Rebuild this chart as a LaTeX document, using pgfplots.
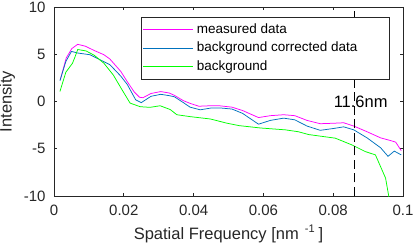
\documentclass[border=0pt]{standalone}
\usepackage{pgfplots}
\pgfplotsset{compat=1.18}
\usepackage{fontspec}
\setmainfont{Liberation Sans}
\definecolor{mmag}{RGB}{255,0,255}
\definecolor{mblue}{RGB}{0,114,189}
\definecolor{mgreen}{RGB}{0,255,0}
\definecolor{axgray}{RGB}{38,38,38}
\begin{document}
\begin{tikzpicture}
\begin{axis}[
  scale only axis,
  width=349bp, height=189bp,
  xmin=0, xmax=0.1, ymin=-10, ymax=10,
  xtick={0,0.02,0.04,0.06,0.08,0.1},
  xticklabels={0,0.02,0.04,0.06,0.08,0.1},
  ytick={-10,-5,0,5,10},
  yticklabels={-10,-5,0,5,10},
  tick align=inside,
  xtick pos=both, ytick pos=both,
  major tick length=3.5bp,
  axis line style={axgray, line width=0.6bp},
  every tick/.style={axgray, line width=0.6bp},
  ticklabel style={font=\fontsize{15bp}{18bp}\selectfont, text=axgray},
  xticklabel style={yshift=-6bp},
  yticklabel style={xshift=-5bp},
  /pgf/number format/assume math mode=true,
  xlabel={Spatial Frequency [nm\hspace{6bp}\raisebox{0.45em}{\fontsize{11bp}{12bp}\selectfont -1}\hspace{4bp}]},
  ylabel={Intensity},
  label style={font=\fontsize{16.5bp}{19bp}\selectfont, text=axgray},
  xlabel style={yshift=-2bp},
  ylabel style={yshift=2bp},
  legend cell align=left,
  legend image code/.code={\draw[#1, line width=0.9bp] (0bp,0bp) -- (50bp,0bp);},
  legend style={at={(rel axis cs:0.963,0.945)}, anchor=north east,
    font=\fontsize{13.5bp}{16bp}\selectfont, draw=axgray, line width=0.6bp,
    fill=white, inner xsep=2bp, inner ysep=3bp, row sep=0bp, column sep=0bp,
    nodes={inner xsep=3bp, inner ysep=2.5bp, text height=10bp, text depth=3.5bp}},
]
\addplot[mmag, line width=0.75bp] coordinates {
(0.0018,2.3) (0.0035,4.6) (0.0051,5.6) (0.0068,6.05) (0.0090,5.85) (0.0115,5.4) (0.0143,4.95) (0.0160,4.5) (0.0191,3.2) (0.0210,2.1) (0.0230,1.0) (0.0245,0.45) (0.0255,0.4) (0.0278,0.85) (0.0306,1.05) (0.0330,0.9) (0.0345,0.65) (0.0370,0.1) (0.0390,-0.2) (0.0415,-0.5) (0.0448,-0.45) (0.0476,-0.46) (0.0510,-0.6) (0.0540,-0.95) (0.0586,-1.7) (0.0620,-1.5) (0.0658,-1.4) (0.0690,-1.5) (0.0725,-2.0) (0.0763,-2.35) (0.0802,-2.3) (0.0830,-2.25) (0.0859,-2.6) (0.0897,-3.2) (0.0936,-3.85) (0.0966,-4.15) (0.0979,-4.3) (0.0995,-5.2)
};
\addlegendentry{\makebox[188bp][l]{measured data}}
\addplot[mblue, line width=0.75bp] coordinates {
(0.0017,2.2) (0.0034,4.24) (0.0050,5.3) (0.0068,5.13) (0.0103,4.95) (0.0132,4.42) (0.0160,3.9) (0.0191,2.7) (0.0210,1.8) (0.0234,0.18) (0.0250,-0.12) (0.0278,0.55) (0.0306,0.76) (0.0330,0.62) (0.0345,0.5) (0.0370,-0.1) (0.0390,-0.6) (0.0419,-0.88) (0.0448,-0.7) (0.0476,-0.68) (0.0510,-0.8) (0.0540,-1.25) (0.0586,-2.4) (0.0620,-2.0) (0.0658,-1.76) (0.0690,-1.94) (0.0725,-2.6) (0.0763,-3.05) (0.0802,-2.85) (0.0830,-2.68) (0.0859,-3.0) (0.0897,-3.85) (0.0936,-4.9) (0.0957,-5.8) (0.0975,-5.25) (0.0995,-5.65)
};
\addlegendentry{\makebox[188bp][l]{background corrected data}}
\addplot[mgreen, line width=0.75bp] coordinates {
(0.0017,1.06) (0.0034,3.1) (0.0053,4.05) (0.0060,4.7) (0.0068,5.5) (0.0092,5.35) (0.0115,4.9) (0.0143,4.05) (0.0170,2.8) (0.0194,1.3) (0.0218,-0.17) (0.0247,-0.55) (0.0275,-0.62) (0.0304,-0.45) (0.0333,-0.85) (0.0352,-1.4) (0.0390,-1.6) (0.0448,-1.85) (0.0496,-2.3) (0.0530,-2.55) (0.0591,-2.8) (0.0663,-3.0) (0.0700,-3.2) (0.0730,-3.5) (0.0806,-3.88) (0.0854,-4.6) (0.0892,-5.3) (0.0921,-5.65) (0.0950,-8.1) (0.0962,-10.6)
};
\addlegendentry{\makebox[188bp][l]{background}}
\addplot[black, line width=0.75bp, dash pattern=on 9bp off 4.5bp, forget plot] coordinates {(0.0862,-10) (0.0862,10)};
\node[anchor=west, inner sep=0pt, font=\fontsize{16.5bp}{19bp}\selectfont] at (axis cs:0.0801,0) {11.6nm};
\end{axis}
\pgfresetboundingbox
\path (current axis.south west) ++(-54bp,-50bp) rectangle ++(415bp,246bp);
\end{tikzpicture}
\end{document}
